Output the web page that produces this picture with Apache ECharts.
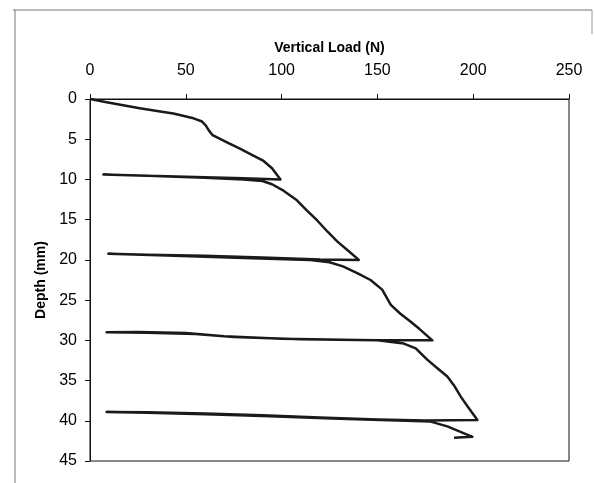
<!DOCTYPE html>
<html>
<head>
<meta charset="utf-8">
<script src="https://cdn.jsdelivr.net/npm/echarts@6/dist/echarts.min.js"></script>
<style>
  html, body { margin: 0; padding: 0; background: #fff; }
  #chart { width: 594px; height: 483px; }
</style>
</head>
<body>
<div id="chart"></div>
<script>
// load-depth trace (load in N, depth in mm)
const loadN = [
  0, 8.7, 18, 26, 35, 43.5, 54, 58.5, 60.5, 62, 64, 71.5, 78.5, 85, 90.6, 95, 99.4,
  80, 50, 25, 7,
  30, 60, 80, 90, 95, 101, 108, 113, 118.6, 124, 129, 134, 140.3,
  120, 90, 60, 30, 9.6,
  40, 80, 115, 125, 132, 140, 146.4, 152.5, 157, 162, 167.4, 172, 178.7,
  140, 100, 70, 50, 25, 8.7,
  30, 55, 75, 110, 150, 163.8, 170, 176, 181, 186.5, 190, 193.5, 197, 202.2,
  175, 150, 120, 90, 60, 30, 8.7,
  30, 60, 90, 130, 165, 177.8, 186.5, 199.6, 190
]
const depthMm = [
  0, 0.4, 0.8, 1.15, 1.5, 1.8, 2.4, 2.8, 3.3, 3.9, 4.5, 5.4, 6.2, 7.0, 7.7, 8.6, 10.0,
  9.85, 9.65, 9.5, 9.4,
  9.55, 9.8, 10.0, 10.2, 10.6, 11.4, 12.6, 13.8, 15.1, 16.5, 17.7, 18.7, 20.0,
  19.95, 19.7, 19.5, 19.35, 19.25,
  19.45, 19.75, 20.0, 20.3, 20.8, 21.7, 22.5, 23.7, 25.6, 26.7, 27.7, 28.6, 30.0,
  29.95, 29.8, 29.5, 29.1, 28.95, 29.0,
  29.05, 29.2, 29.6, 29.85, 30.0, 30.4, 31.0, 32.4, 33.4, 34.5, 35.6, 37.0, 38.2, 39.9,
  39.95, 39.85, 39.6, 39.3, 39.1, 38.95, 38.9,
  39.0, 39.2, 39.4, 39.75, 40.0, 40.1, 40.7, 42.0, 42.1
]

const xTicks = [0, 50, 100, 150, 200, 250]
const yTicks = [0, 5, 10, 15, 20, 25, 30, 35, 40, 45]

const points = loadN.map((v, i) => [v, depthMm[i]])

const font = 'Liberation Sans, Arial, sans-serif'

const option = {
  animation: false,
  backgroundColor: '#fff',
  graphic: [
    { type: 'line', shape: { x1: 13, y1: 10, x2: 592, y2: 10 }, style: { stroke: '#777', lineWidth: 1 } },
    { type: 'line', shape: { x1: 15, y1: 10, x2: 15, y2: 483 }, style: { stroke: '#777', lineWidth: 1 } },
    { type: 'line', shape: { x1: 592, y1: 10, x2: 592, y2: 34 }, style: { stroke: '#999', lineWidth: 1 } }
  ],
  grid: {
    left: 90,
    right: 25,
    top: 99,
    bottom: 22,
    show: true,
    borderColor: '#111',
    borderWidth: 1
  },
  xAxis: {
    type: 'value',
    position: 'top',
    min: xTicks[0],
    max: xTicks[xTicks.length - 1],
    interval: 50,
    name: 'Vertical Load (N)',
    nameLocation: 'middle',
    nameGap: 44,
    nameTextStyle: { fontFamily: font, fontSize: 14, fontWeight: 'bold', color: '#000' },
    axisLine: { show: true, lineStyle: { color: '#111', width: 1 } },
    axisTick: { show: true, length: 5, lineStyle: { color: '#111' } },
    axisLabel: { fontFamily: font, fontSize: 16, color: '#000', margin: 20 },
    splitLine: { show: false }
  },
  yAxis: {
    type: 'value',
    inverse: true,
    min: yTicks[0],
    max: yTicks[yTicks.length - 1],
    interval: 5,
    name: 'Depth (mm)',
    nameLocation: 'middle',
    nameGap: 37,
    nameRotate: 90,
    nameTextStyle: { fontFamily: font, fontSize: 14, fontWeight: 'bold', color: '#000' },
    axisLine: { show: true, lineStyle: { color: '#111', width: 1 } },
    axisTick: { show: true, length: 5, lineStyle: { color: '#111' } },
    axisLabel: { fontFamily: font, fontSize: 16, color: '#000', margin: 13 },
    splitLine: { show: false }
  },
  series: [
    {
      type: 'line',
      data: points,
      showSymbol: false,
      smooth: false,
      lineStyle: { color: '#1a1a1a', width: 2.5, join: 'round' }
    }
  ]
}

const chart = echarts.init(document.getElementById('chart'))
chart.setOption(option)
</script>
</body>
</html>
